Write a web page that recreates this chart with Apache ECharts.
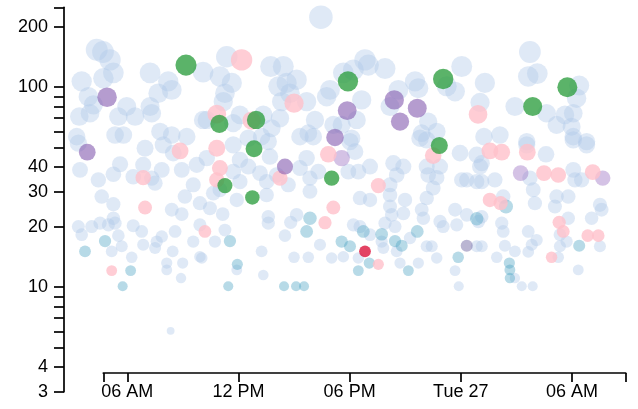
<!DOCTYPE html>
<html>
<head>
<meta charset="utf-8">
<script src="https://cdn.jsdelivr.net/npm/echarts@6/dist/echarts.min.js"></script>
<style>
html, body { margin: 0; padding: 0; background: #fff; }
#main { width: 638px; height: 409px; }
</style>
</head>
<body>
<div id="main"></div>
<script>
// points are [hours since Mon 26 00:00, value]
var lightBlue = [
  [4.35,154],[4.69,150],[5.07,137],[5.25,118],[4.71,111],[3.54,107],[3.90,89.7],[4.17,81.6],[3.41,71.3],[3.99,74.1],
  [5.97,80.0],[5.52,71.3],[6.42,71.3],[7.23,80.0],[7.32,74.1],[7.23,118],[8.21,107],[7.67,93.3],[8.40,97.0],[10.09,119],
  [3.27,56.6],[5.34,57.7],[5.79,57.7],[7.77,60.0],[8.40,57.7],[9.21,56.6],[10.09,68.6],
  [16.45,224],[11.37,142],[11.0,113],[11.64,105],[11.27,93.3],[11.18,84.7],[13.74,127],[14.42,127],[14.15,101],
  [14.60,105],[15.14,109],[14.78,93.3],[14.33,84.7],[15.68,84.7],[16.76,89.7],[16.94,97.0],[16.13,68.6],[15.77,58.9],
  [17.12,64.8],[17.66,118],[10.29,68.6],[11.72,66.1],[12.08,72.7],[13.34,72.7],[13.79,62.4],[14.24,70.0],[12.53,55.6],[13.25,56.6],
  [18.83,137],[18.20,122],[19.01,129],[19.91,124],[18.65,86.4],[18.38,68.6],[20.18,80.0],[20.63,97.0],[21.53,107],[21.71,98.9],
  [22.24,67.3],[22.70,60.0],[21.89,58.9],[23.24,101],[23.69,95.1],[24.05,127],[25.30,105],[25.04,83.9],[25.25,56.6],[18.11,55.6],[17.57,64.8],
  [27.73,150],[27.64,113],[28.13,117],[30.39,102],[30.25,88.1],[26.92,80.0],[28.63,74.1],[29.62,72.7],[30.07,74.1],[29.17,64.8],
  [29.98,63.5],[26.11,57.7],[30.07,56.6],[30.79,53.5],[27.56,53.5],
  [3.36,52.5],[3.45,38.6],[4.44,34.4],[5.25,36.7],[5.61,41.2],[4.62,28.4],[5.25,26.0],[6.96,49.5],[6.32,35.7],[7.32,35.1],
  [7.50,33.1],[6.86,40.9],[7.86,38.6],[8.94,38.6],[9.75,40.9],[8.48,46.8],[7.94,51.5],[9.56,32.5],[9.11,28.4],[8.40,24.4],
  [8.94,23.2],[9.92,26.3],[3.36,20.1],[3.54,18.3],[4.08,20.1],[4.53,20.9],[5.25,22.1],[5.34,20.9],[4.98,20.5],[5.52,18.1],
  [5.70,16.0],[5.16,15.1],[6.32,20.3],[6.78,19.0],[6.24,14.1],[6.86,16.3],[7.59,16.9],[7.86,17.9],[7.50,15.7],[8.58,19.0],
  [8.45,15.1],[8.13,13.2],[8.99,13.2],[9.56,16.9],[9.92,20.5],[9.92,14.2],[8.90,11.1],[8.13,12.2],[8.34,6.05],
  [13.61,22.5],[13.61,20.9],[13.25,15.1],[14.51,18.1],[14.82,21.1],[15.14,23.0],[15.0,14.1],[15.77,14.1],[16.40,16.3],[17.03,14.0],
  [11.15,23.2],[10.46,24.8],[10.73,16.9],[11.27,19.3],[10.02,14.0],[13.34,11.5],[11.72,51.5],[12.08,43.3],[12.53,40.1],[13.16,37.2],
  [13.52,33.7],[13.70,45.0],[14.06,36.4],[11.72,37.8],[12.08,33.7],[10.64,29.5],[11.91,27.3],[13.52,28.9],[14.69,32.5],[15.32,39.4],
  [15.68,44.2],[15.86,35.1],[15.86,30.1],[16.31,37.8],[15.32,56.6],[16.04,56.6],[10.29,44.2],[11.0,30.7],[13.61,53.5],[11.91,12.2],
  [18.02,53.5],[18.29,47.6],[19.10,40.1],[17.93,37.8],[18.47,37.8],[20.36,41.7],[20.90,40.1],[20.54,36.4],[20.18,32.5],[20.18,28.9],
  [20.99,27.3],[18.56,27.9],[19.10,27.3],[20.18,25.3],[20.27,23.0],[20.90,23.4],[21.89,24.4],[22.16,27.9],[22.51,31.3],[22.24,36.4],
  [22.70,35.3],[22.88,40.1],[22.16,40.1],[23.96,46.8],[24.05,34.4],[24.32,34.4],[24.86,33.7],[25.04,40.1],[24.86,45.9],[21.80,55.6],
  [22.16,54.5],[23.69,24.4],[23.78,20.5],[24.32,23.0],[22.88,21.3],[23.05,20.1],[21.98,22.1],[22.16,16.0],[22.70,14.0],[21.71,13.2],
  [20.45,20.1],[19.91,20.9],[19.73,16.9],[20.54,15.1],[21.26,17.6],[18.20,20.5],[18.56,20.1],[19.10,18.3],[19.82,15.7],[17.66,14.2],
  [18.47,14.0],[20.72,13.2],[22.43,16.0],[23.69,12.1],[24.86,16.0],[24.95,21.3],[23.89,10.1],
  [27.56,51.5],[28.60,46.2],[30.07,54.5],[30.79,51.5],[25.13,41.7],[25.84,34.4],[27.73,35.1],[27.91,30.7],[28.0,26.3],[29.17,28.4],
  [29.08,25.3],[29.80,28.4],[30.16,34.4],[30.07,38.6],[30.52,34.4],[25.13,33.7],[26.29,28.4],[31.51,25.8],[31.60,24.4],[31.06,22.1],
  [29.80,22.1],[26.21,20.9],[26.29,19.0],[27.64,19.0],[28.09,17.2],[27.83,16.3],[26.38,16.1],[26.92,15.1],[27.64,15.0],[29.35,18.3],
  [29.71,16.9],[29.35,16.0],[31.51,16.0],[25.94,14.1],[29.26,14.1],[30.34,12.2],[25.13,16.0],[25.13,22.5],[27.29,10.1],[27.88,10.1],[26.92,11.1]
];
var darkBlue = [
  [4.80,17.0],[3.72,15.1],[6.18,12.1],[5.75,10.1],[11.54,17.0],[11.94,13.0],[11.45,10.1],[14.46,10.1],[15.11,10.1],[15.54,10.1],
  [15.86,22.1],[15.68,19.0],[17.57,16.9],[18.02,16.0],[18.74,19.0],[19.73,18.4],[20.45,17.0],[20.81,16.1],[21.65,19.0],[24.86,22.0],
  [23.86,14.1],[19.06,13.2],[18.47,12.1],[21.17,12.1],[26.44,25.3],[30.39,16.1],[26.62,13.2],[26.65,12.2],[26.65,11.1]
];
var slate = [[24.32,16.1]];
var lightPurple = [[17.57,44.2],[27.23,37.2],[31.66,35.1]];
var pink = [
  [12.17,137],[15.0,83.2],[10.83,73.3],[12.71,68.1],[10.83,49.5],[11.0,39.4],[10.83,34.4],[14.24,35.1],[16.85,46.2],[17.12,25.0],
  [16.67,21.0],[10.19,19.0],[8.85,48.0],[6.86,35.3],[6.96,25.0],[5.16,12.1],[19.55,32.2],[19.55,13.0],[22.51,45.5],[24.93,73.1],
  [25.57,48.0],[26.21,47.3],[27.59,47.3],[28.49,37.2],[29.26,36.4],[31.12,37.6],[25.57,27.3],[26.15,26.3],[29.31,21.1],[29.53,19.0],
  [30.85,18.1],[31.42,18.1],[28.9,14.1]
];
var purple = [[4.91,89.1],[3.84,47.3],[14.51,40.1],[17.21,56.1],[17.87,76.4],[20.41,86.4],[21.65,78.5],[20.72,67.3]];
var green = [[9.17,129],[10.97,65.5],[11.27,32.2],[12.84,49.2],[12.95,68.6],[12.75,28.1],[17.91,107],[17.03,35.1],[23.05,110],[22.84,51.1],[27.88,80],[29.75,100]];
var red = [[18.83,15.1]];

var xRange = [4.706, 32.90];
var xLabelHours = [6, 12, 18, 24, 30];
var yRange = [3, 251];
var yLabelVals = [3, 4, 10, 20, 30, 40, 100, 200];
var yTickVals = [3, 4, 5, 6, 7, 8, 9, 10, 20, 30, 40, 50, 60, 70, 80, 90, 100, 200, 251];

var base = new Date(2016, 8, 26, 0, 0, 0).getTime();
function ts(h) { return base + h * 3600000; }
function toPoint(p) { return [ts(p[0]), p[1]]; }
var days = ['Sun','Mon','Tue','Wed','Thu','Fri','Sat'];
function fmtTime(v) {
  var d = new Date(v);
  var h = d.getHours();
  if (h === 0) return days[d.getDay()] + ' ' + d.getDate();
  var hh = h % 12 === 0 ? 12 : h % 12;
  return (hh < 10 ? '0' : '') + hh + ' ' + (h < 12 ? 'AM' : 'PM');
}

function mk(name, pts, color) {
  return {
    name: name,
    type: 'scatter',
    data: pts.map(toPoint),
    symbolSize: function (val) { return 10 * Math.log10(val[1]); },
    itemStyle: { color: color },
    clip: false,
    silent: true
  };
}

var axisColor = '#000';
var font = 'Liberation Sans';

var option = {
  animation: false,
  grid: { left: 103.3, right: 12.3, top: 7.3, bottom: 17.3 },
  xAxis: {
    type: 'value',
    scale: true,
    min: ts(xRange[0]),
    max: ts(xRange[1]),
    offset: -18.7,
    axisLine: { onZero: false, lineStyle: { color: axisColor, width: 1.7 } },
    axisTick: { show: true, length: 9, customValues: [xRange[0]].concat(xLabelHours, [xRange[1]]).map(ts), lineStyle: { color: axisColor, width: 1.7 } },
    axisLabel: { customValues: xLabelHours.map(ts), formatter: fmtTime, margin: 10, fontSize: 18, color: '#000', fontFamily: font },
    splitLine: { show: false }
  },
  yAxis: {
    type: 'log',
    logBase: 10,
    min: yRange[0],
    max: yRange[1],
    offset: 39.3,
    axisLine: { show: true, lineStyle: { color: axisColor, width: 1.7 } },
    axisTick: { show: true, length: 10, customValues: yTickVals, lineStyle: { color: axisColor, width: 1.7 } },
    axisLabel: { customValues: yLabelVals, margin: 16, fontSize: 18, color: '#000', fontFamily: font,
      formatter: function (v) { return String(Math.round(v)); } },
    splitLine: { show: false }
  },
  series: [
    mk('a', lightBlue, 'rgba(174,199,232,0.5)'),
    mk('b', slate, 'rgba(110,100,160,0.6)'),
    mk('c', darkBlue, 'rgba(75,163,195,0.5)'),
    mk('d', lightPurple, 'rgba(148,103,189,0.5)'),
    mk('e', pink, '#ffc0cb'),
    mk('f', purple, 'rgba(140,100,180,0.8)'),
    mk('g', green, '#32a043'),
    mk('h', red, 'crimson')
  ]
};

var myChart = echarts.init(document.getElementById('main'));
myChart.setOption(option);
</script>
</body>
</html>
